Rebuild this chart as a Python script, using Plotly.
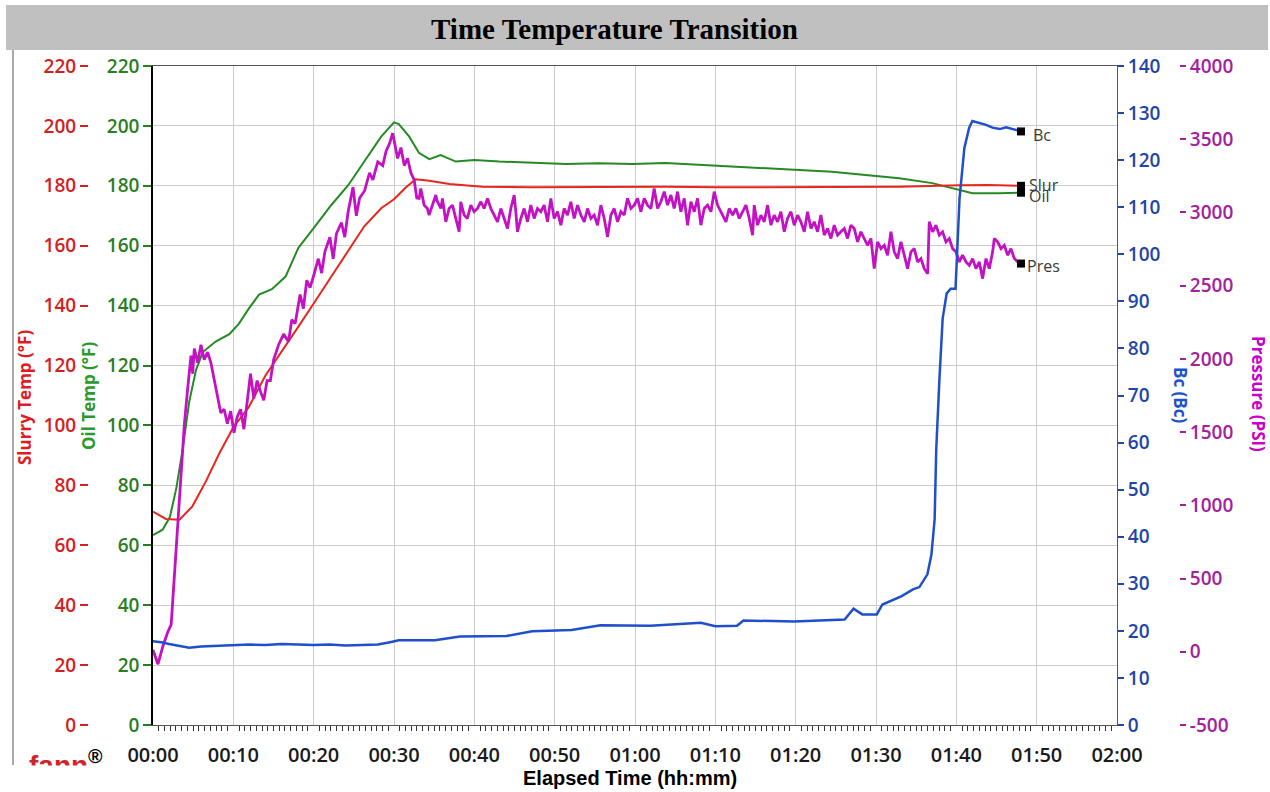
import plotly.graph_objects as go

# ---------------- data (minutes, values) ----------------
slurry_time = [0, 1.6, 3.3, 4.9, 6.6, 8.2, 10.0, 11.9, 14.0, 16.0,
               18.1, 20.0, 22.2, 24.3, 26.3, 28.4, 30.0, 31.5, 32.7, 34.4,
               36.9, 41.0, 47.2, 55.5, 63.8, 70.5, 80.4, 86.0, 92.9, 100.4,
               104.0, 108.05]
slurry_temp = [71.2, 68.8, 68.5, 73.0, 81.4, 90.4, 99.4, 106.0, 116.7, 124.5,
               133.0, 140.7, 149.7, 158.7, 166.5, 172.5, 175.5, 179.5, 182.2, 181.7,
               180.6, 179.7, 179.5, 179.6, 179.7, 179.5, 179.6, 179.8, 179.7, 180.2,
               180.3, 180.0]

oil_time = [0, 1.2, 2.1, 2.9, 3.7, 4.5, 5.35, 6.2, 7.8, 9.5,
            10.7, 11.9, 13.2, 14.8, 16.5, 18.1, 20.0, 22.2, 24.3, 26.3,
            28.4, 30.0, 30.6, 31.9, 33.1, 34.4, 35.8, 37.7, 40.0, 43.1,
            47.2, 51.4, 55.5, 59.7, 63.8, 68.0, 72.1, 76.1, 80.4, 84.5,
            88.7, 92.9, 97.0, 99.5, 102.0, 105.3, 108.05]
oil_temp = [63.4, 65.2, 69.4, 79.0, 92.2, 107.8, 118.5, 124.5, 128.0, 130.5,
            134.0, 138.9, 143.7, 145.5, 149.7, 159.3, 165.9, 173.6, 180.2, 188.0,
            196.4, 201.2, 200.6, 196.4, 191.0, 188.9, 190.3, 188.1, 188.6, 188.1,
            187.7, 187.3, 187.5, 187.3, 187.6, 187.0, 186.4, 185.9, 185.3, 184.7,
            183.6, 182.5, 180.9, 179.2, 177.5, 177.5, 177.7]

bc_time = [0, 1.0, 2.0, 3.0, 4.5, 6.0, 8.0, 10.0, 12.0, 14.0,
           16.0, 18.0, 20.0, 22.0, 24.0, 26.0, 28.0, 29.5, 30.6, 35.1,
           38.2, 44.0, 47.2, 52.1, 55.7, 61.9, 68.2, 70.0, 72.7, 73.5,
           79.8, 86.1, 87.2, 88.3, 90.1, 90.8, 93.2, 94.6, 95.4, 96.4,
           96.9, 97.3, 97.5, 97.9, 98.3, 98.8, 99.3, 99.9, 100.4, 101.0,
           101.6, 102.0, 102.9, 103.7, 104.5, 105.4, 106.2, 107.0, 108.05]
bc_value = [17.8, 17.6, 17.2, 16.9, 16.4, 16.7, 16.8, 16.9, 17.1, 17.0,
            17.2, 17.1, 17.0, 17.1, 16.9, 17.0, 17.1, 17.6, 18.0, 18.0,
            18.8, 18.9, 19.9, 20.2, 21.2, 21.1, 21.7, 21.0, 21.1, 22.2,
            22.0, 22.4, 24.7, 23.5, 23.5, 25.6, 27.4, 28.8, 29.3, 32.0,
            36.2, 43.7, 58.6, 73.6, 86.4, 91.7, 92.7, 92.7, 111.9, 122.6,
            126.9, 128.3, 127.9, 127.5, 126.9, 126.6, 127.0, 126.6, 126.1]

pres_time = [
    0.00, 0.62, 1.23, 1.85, 2.26, 2.67, 3.09, 3.50, 3.91, 4.32,
    4.73, 4.94, 5.14, 5.56, 5.97, 6.38, 6.79, 7.20, 7.61, 8.02,
    8.44, 8.85, 9.26, 9.67, 10.08, 10.49, 10.91, 11.32, 11.73, 12.14,
    12.55, 12.96, 13.37, 13.79, 14.20, 14.61, 15.02, 15.64, 16.26, 16.87,
    17.28, 17.70, 18.31, 18.72, 19.14, 19.55, 19.96, 20.58, 20.99, 21.40,
    22.02, 22.43, 22.84, 23.46, 23.87, 24.28, 24.90, 25.31, 25.72, 26.34,
    26.95, 27.37, 27.98, 28.60, 29.01, 29.42, 29.84, 30.12, 30.45, 30.86,
    31.28, 31.69, 32.10, 32.51, 32.84,
    33.13, 33.33, 33.75, 34.16, 34.37, 34.79, 35.20, 35.41, 35.83, 36.03,
    36.45, 36.86, 37.28, 37.69, 38.11, 38.31, 38.73, 39.14, 39.56, 39.98,
    40.39, 40.81, 41.22, 41.64, 42.05, 42.47, 42.88, 43.30, 43.71, 44.13,
    44.54, 44.96, 45.16, 45.37, 45.79, 46.20, 46.62, 47.03, 47.45, 47.86,
    48.28, 48.69, 49.11, 49.52, 49.94, 50.35, 50.77, 51.18, 51.60, 52.01,
    52.43, 52.85, 53.26, 53.68, 54.09, 54.51, 54.92, 55.34, 55.75, 56.17,
    56.58, 57.00, 57.41, 57.83, 58.24, 58.66, 59.07, 59.49, 59.90, 60.32,
    60.73, 61.15, 61.56, 61.98, 62.39, 62.81, 63.22, 63.64, 64.05, 64.47,
    64.88, 65.30, 65.71, 66.13, 66.54, 66.96, 67.37, 67.79, 68.20, 68.62,
    69.03, 69.45, 69.86, 70.28,
    71.32, 71.73, 72.15, 72.56, 72.98, 73.39, 73.81, 74.22, 74.64, 74.84,
    75.26, 75.67, 76.09, 76.50, 76.92, 77.33, 77.75, 78.16, 78.58, 78.99,
    79.41, 79.82, 80.24, 80.65, 81.07, 81.48, 81.90, 82.31, 82.73, 83.14,
    83.56, 83.97, 84.39, 84.80, 85.22, 85.63, 86.05, 86.46, 86.88, 87.29,
    87.71, 88.12, 88.54, 88.95, 89.37, 89.78, 90.20, 90.61, 91.03, 91.44,
    91.86, 92.27, 92.69, 93.10, 93.52, 93.93, 94.35, 94.76, 95.18, 95.59,
    96.01, 96.43, 96.63, 97.05, 97.46, 97.88, 98.29, 98.71, 99.12, 99.54,
    99.95, 100.37, 100.78, 101.20, 101.61, 102.03, 102.44, 102.86, 103.27, 103.69,
    104.10, 104.52, 104.73, 105.14, 105.56, 105.97, 106.39, 106.80, 107.22, 107.63,
    108.05]
pres_psi = [
    13, -85, 38, 136, 185, 529, 895, 1263, 1557, 1800,
    2022, 1899, 2070, 1974, 2097, 1995, 2046, 1975, 1852, 1729,
    1631, 1656, 1557, 1643, 1496, 1606, 1656, 1520, 1705, 1899,
    1729, 1852, 1778, 1717, 1852, 1852, 1995, 2097, 2169, 2118,
    2267, 2241, 2439, 2343, 2537, 2486, 2561, 2684, 2586, 2733,
    2831, 2684, 2856, 2930, 2831, 3001, 3173, 2977, 3099, 3148,
    3271, 3222, 3345, 3320, 3418, 3467, 3541, 3467, 3369, 3443,
    3320, 3369, 3271, 3222, 3099,
    3096, 3164, 3050, 3027, 2982, 3050, 3119, 3073, 3027, 3096,
    2936, 3027, 3050, 2959, 2868, 3073, 2982, 2959, 3050, 3005,
    3027, 3073, 3027, 3096, 3027, 2982, 2936, 3027, 2959, 2890,
    3027, 3119, 3005, 2868, 2959, 3027, 2936, 3050, 2959, 3027,
    3005, 3050, 2936, 3096, 2959, 3005, 2913, 3027, 2982, 3073,
    2959, 3050, 2982, 2936, 3027, 2959, 2982, 2913, 3050, 2959,
    2833, 2982, 3027, 2936, 3005, 2982, 3096, 3027, 3050, 3096,
    3005, 3096, 3050, 3027, 3164, 3027, 3073, 3142, 3050, 3119,
    3027, 3142, 3005, 3096, 2913, 3073, 3005, 3096, 2913, 3027,
    3050, 3005, 3142, 3050,
    2936, 3027, 2982, 3027, 2959, 3005, 3050, 2959, 2845, 3050,
    2913, 2982, 2936, 3050, 2913, 2982, 2936, 3005, 2868, 2959,
    3005, 2913, 2982, 2936, 2868, 3005, 2890, 2936, 2868, 2982,
    2845, 2890, 2822, 2913, 2845, 2868, 2890, 2822, 2913, 2890,
    2799, 2868, 2822, 2776, 2822, 2616, 2799, 2753, 2776, 2708,
    2868, 2731, 2685, 2799, 2708, 2616, 2731, 2753, 2662, 2685,
    2616, 2582, 2936, 2868, 2913, 2845, 2868, 2799, 2822, 2753,
    2731, 2662, 2708, 2662, 2639, 2685, 2616, 2662, 2548, 2685,
    2616, 2731, 2822, 2799, 2753, 2776, 2708, 2753, 2685, 2662,
    2651]

x_tick_vals = [0, 10, 20, 30, 40, 50, 60, 70, 80, 90, 100, 110, 120]
x_tick_text = ["00:00", "00:10", "00:20", "00:30", "00:40", "00:50", "01:00",
               "01:10", "01:20", "01:30", "01:40", "01:50", "02:00"]
temp_ticks = [0, 20, 40, 60, 80, 100, 120, 140, 160, 180, 200, 220]
bc_ticks = [0, 10, 20, 30, 40, 50, 60, 70, 80, 90, 100, 110, 120, 130, 140]
pres_ticks = [-500, 0, 500, 1000, 1500, 2000, 2500, 3000, 3500, 4000]
pres_tick_text = ["-500", "0", "500", "1000", "1500", "2000", "2500", "3000", "3500", "4000"]

# ---------------- layout geometry ----------------
W, H = 1270, 792
ML, MR, MT, MB = 10, 10, 66, 67
PW = W - ML - MR
PH = H - MT - MB


def px(x):
    return (x - ML) / PW


def py(y):
    return (H - MB - y) / PH


RED = "#d42020"
GREEN = "#2b7d22"
BLUE = "#1f45a8"
MAG = "#a3219f"
LINE_RED = "#e8261e"
LINE_GREEN = "#258a25"
LINE_MAG = "#c312c3"
LINE_BLUE = "#1f4fcc"
FONT = "Open Sans"

fig = go.Figure()
fig.add_trace(go.Scatter(x=oil_time, y=oil_temp, mode="lines", yaxis="y",
                         line=dict(color=LINE_GREEN, width=2), name="Oil"))
fig.add_trace(go.Scatter(x=slurry_time, y=slurry_temp, mode="lines", yaxis="y2",
                         line=dict(color=LINE_RED, width=2), name="Slur"))
fig.add_trace(go.Scatter(x=pres_time, y=pres_psi, mode="lines", yaxis="y3",
                         line=dict(color=LINE_MAG, width=2.8), name="Pres"))
fig.add_trace(go.Scatter(x=bc_time, y=bc_value, mode="lines", yaxis="y4",
                         line=dict(color=LINE_BLUE, width=2.5), name="Bc"))

# end markers
for t, v, ax in [(oil_time[-1], oil_temp[-1], "y"), (slurry_time[-1], slurry_temp[-1], "y2"),
                 (pres_time[-1], pres_psi[-1], "y3"), (bc_time[-1], bc_value[-1], "y4")]:
    fig.add_trace(go.Scatter(x=[t], y=[v], mode="markers", yaxis=ax,
                             marker=dict(symbol="square", size=8, color="black")))

minor_vals = [i * 10 / 14 for i in range(0, 169) if i % 14 != 0]

fig.update_layout(
    width=W, height=H,
    margin=dict(l=ML, r=MR, t=MT, b=MB, autoexpand=False),
    paper_bgcolor="white", plot_bgcolor="white",
    showlegend=False,
    xaxis=dict(
        domain=[px(153), px(1117)], range=[0, 120], automargin=False,
        tickmode="array", tickvals=x_tick_vals, ticktext=x_tick_text,
        ticks="", ticklabelstandoff=12,
        tickfont=dict(family=FONT, size=20, color="#1a1a1a", weight=600),
        showgrid=True, gridcolor="#cccccc", gridwidth=1,
        showline=True, linecolor="#555555", linewidth=1, mirror=True,
        zeroline=False,
        minor=dict(tickmode="array", tickvals=minor_vals, ticks="outside",
                   ticklen=5, tickcolor="#333333", tickwidth=1, showgrid=False),
    ),
    yaxis=dict(
        range=[0, 220], tickmode="array", tickvals=temp_ticks, automargin=False,
        ticks="outside", ticklen=8, tickcolor=GREEN, tickwidth=1.5,
        tickfont=dict(family=FONT, size=19, color=GREEN, weight=600),
        showgrid=True, gridcolor="#cccccc", gridwidth=1,
        showline=True, linecolor="black", linewidth=1.5,
        zeroline=False,
    ),
    yaxis2=dict(
        range=[0, 220], tickmode="array", tickvals=temp_ticks, automargin=False,
        overlaying="y", side="left", anchor="free", position=px(88),
        ticks="outside", ticklen=8, tickcolor=RED, tickwidth=1.5,
        tickfont=dict(family=FONT, size=19, color=RED, weight=600),
        showgrid=False, showline=False, zeroline=False,
    ),
    yaxis3=dict(
        range=[-500, 4000], tickmode="array", tickvals=pres_ticks, ticktext=pres_tick_text,
        automargin=False,
        overlaying="y", side="right", anchor="free", position=px(1179),
        ticks="outside", ticklen=6, tickcolor=MAG, tickwidth=1.5,
        tickfont=dict(family=FONT, size=19, color=MAG, weight=600),
        showgrid=False, showline=False, zeroline=False,
    ),
    yaxis4=dict(
        range=[0, 140], tickmode="array", tickvals=bc_ticks, automargin=False,
        overlaying="y", side="right", anchor="x",
        ticks="outside", ticklen=6, tickcolor=BLUE, tickwidth=1.5,
        tickfont=dict(family=FONT, size=19, color=BLUE, weight=600),
        showgrid=False, showline=True, linecolor="#555555", linewidth=1,
        zeroline=False,
    ),
)

# title band and frame line
fig.add_shape(type="rect", xref="paper", yref="paper",
              x0=px(6), x1=px(1268), y0=py(50), y1=py(5),
              fillcolor="#c0c0c0", line=dict(width=0), layer="below")
fig.add_shape(type="line", xref="paper", yref="paper",
              x0=px(13), x1=px(13), y0=py(50), y1=py(765),
              line=dict(color="#555555", width=1))

ann = []
ann.append(dict(text="<b>Time Temperature Transition</b>", xref="paper", yref="paper",
                x=px(614), y=py(29), xanchor="center", yanchor="middle", showarrow=False,
                font=dict(family="Liberation Serif", size=29, color="black")))
ann.append(dict(text="Elapsed Time (hh:mm)", xref="paper", yref="paper",
                x=px(630), y=py(778), xanchor="center", yanchor="middle", showarrow=False,
                font=dict(family="Liberation Sans", size=20, color="black", weight="bold")))
ann.append(dict(text="Slurry Temp (°F)", xref="paper", yref="paper",
                x=px(24), y=py(398), xanchor="center", yanchor="middle", showarrow=False,
                textangle=-90, font=dict(family=FONT, size=17, color="#e01b24", weight=700)))
ann.append(dict(text="Oil Temp (°F)", xref="paper", yref="paper",
                x=px(88), y=py(396), xanchor="center", yanchor="middle", showarrow=False,
                textangle=-90, bgcolor="white", borderpad=0,
                font=dict(family=FONT, size=17, color="#2a9a2a", weight=700)))
ann.append(dict(text="Bc (Bc)", xref="paper", yref="paper",
                x=px(1181), y=py(395), xanchor="center", yanchor="middle", showarrow=False,
                textangle=90, font=dict(family=FONT, size=17, color="#2050d0", weight=700)))
ann.append(dict(text="Pressure (PSI)", xref="paper", yref="paper",
                x=px(1259), y=py(394), xanchor="center", yanchor="middle", showarrow=False,
                textangle=90, font=dict(family=FONT, size=17, color="#c800c8", weight=700)))

# end labels
lab_font = dict(family=FONT, size=16, color="#3a3a3a")
ann.append(dict(text="Bc", x=bc_time[-1], y=bc_value[-1], xref="x", yref="y4",
                xanchor="left", yanchor="middle", xshift=10, yshift=-4, showarrow=False, font=lab_font))
ann.append(dict(text="Slur", x=slurry_time[-1], y=slurry_temp[-1], xref="x", yref="y2",
                xanchor="left", yanchor="middle", xshift=6, yshift=1, showarrow=False, font=lab_font))
ann.append(dict(text="Oil", x=oil_time[-1], y=oil_temp[-1], xref="x", yref="y",
                xanchor="left", yanchor="middle", xshift=6, yshift=-3, showarrow=False, font=lab_font))
ann.append(dict(text="Pres", x=pres_time[-1], y=pres_psi[-1], xref="x", yref="y3",
                xanchor="left", yanchor="middle", xshift=4, yshift=-2, showarrow=False, font=lab_font))

# logo, partially hidden at the bottom edge
ann.append(dict(text="fann<sup><span style='color:black'>®</span></sup>", xref="paper", yref="paper",
                x=px(66), y=py(763), xanchor="center", yanchor="middle", showarrow=False,
                font=dict(family="Liberation Sans", size=28, color="#d2232a", weight="bold")))
ann.append(dict(text=" ", xref="paper", yref="paper",
                x=px(75), y=py(780), xanchor="center", yanchor="middle", showarrow=False,
                width=150, height=28, bgcolor="white", borderpad=0,
                font=dict(size=10)))

fig.update_layout(annotations=ann)

fig.write_html("out.html")
